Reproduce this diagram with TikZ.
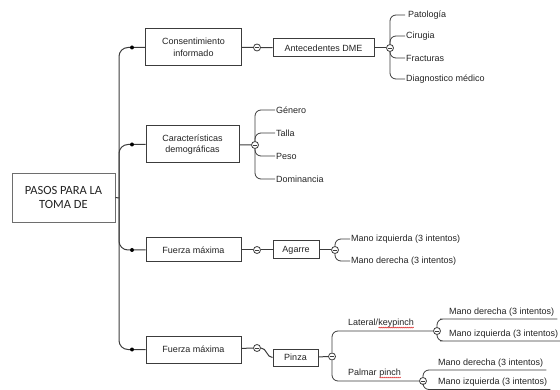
\documentclass[tikz,border=0pt]{standalone}
\usepackage{fontspec}
\setmainfont{Liberation Sans}
\newfontfamily\rootfont{Carlito}
\usetikzlibrary{positioning,calc,decorations.pathmorphing}
\definecolor{inkGray}{RGB}{35,35,35}
\definecolor{lineGray}{RGB}{60,60,60}
\definecolor{frameGray}{RGB}{110,110,110}
\definecolor{spellRed}{RGB}{220,40,40}
\tikzset{
  step box/.style={draw=lineGray,line width=1pt,fill=white,align=center,text=inkGray,font=\fontsize{9}{11.5}\selectfont,inner sep=2pt},
  root box/.style={draw=frameGray,line width=0.9pt,align=center,text=inkGray,font=\rootfont\fontsize{12.5}{14.5}\selectfont,minimum width=103pt,minimum height=49pt},
  toggle/.style={circle,draw=lineGray,fill=white,line width=0.8pt,minimum size=7pt,inner sep=0pt,
    path picture={\draw[lineGray,line width=0.7pt]([xshift=-2pt]path picture bounding box.center)--([xshift=2pt]path picture bounding box.center);}},
  knot/.style={circle,fill=black,inner sep=0pt,minimum size=4pt},
  leaf/.style={text=inkGray,font=\fontsize{9}{10}\selectfont,inner sep=1pt,anchor=west},
  uleaf/.style={text=inkGray,font=\fontsize{9}{10}\selectfont,inner xsep=3pt,inner ysep=2.5pt,anchor=south west},
  bough/.style={draw=lineGray,line width=1pt},
  branch/.style={draw=lineGray,line width=1pt,rounded corners=9pt},
  twig/.style={draw=lineGray,line width=0.8pt,rounded corners=6pt}
}
% red wavy mark under a word
\newcommand\spellmark[1]{\tikz[baseline=(sw.base)]{\node[inner sep=0pt,outer sep=0pt](sw){#1};
  \draw[spellRed,line width=0.5pt,decorate,decoration={snake,amplitude=0.5pt,segment length=2pt}]
    ([yshift=-1.6pt]sw.base west)--([yshift=-1.6pt]sw.base east);}}

\begin{document}
\begin{tikzpicture}[x=1pt,y=-1pt]
\useasboundingbox (0,0) rectangle (560,390);

\node[root box] (root) at (63.5,197.5) {PASOS PARA LA\\TOMA DE};
\coordinate (hub) at (119,198);

% main steps
\node[step box,minimum width=96pt,minimum height=37pt] (consent) at (193.5,47.5) {Consentimiento\\informado};
\node[step box,minimum width=93pt,minimum height=37pt] (demog) at (192.5,144.5) {Características\\demográficas};
\node[step box,minimum width=95pt,minimum height=24pt] (grip) at (193.5,250) {Fuerza máxima};
\node[step box,minimum width=95pt,minimum height=27pt] (pinch) at (193.5,349.5) {Fuerza máxima};

\node[knot] (k1) at (132,47.5) {};
\node[knot] (k2) at (132,144.5) {};
\node[knot] (k3) at (132,250) {};
\node[knot] (k4) at (132,349.5) {};

\draw[bough] (root.east) -- (hub);
\draw[branch] (hub) |- (k1) -- (consent);
\draw[branch] (hub) |- (k2) -- (demog);
\draw[branch] (hub) |- (k3) -- (grip);
\draw[branch] (hub) |- (k4) -- (pinch);

% antecedentes
\node[toggle] (c1) at (257,47.5) {};
\node[step box,minimum width=101pt,minimum height=18pt] (antec) at (323.5,48) {Antecedentes DME};
\draw[bough] (consent) -- (c1) -- (antec);
\node[toggle] (c1b) at (390,48) {};
\draw[bough] (antec) -- (c1b);
\node[leaf] (pat) at (407,15) {Patología};
\node[leaf] (cir) at (405,36) {Cirugia};
\node[leaf] (fra) at (405,58) {Fracturas};
\node[leaf] (dia) at (405,79) {Diagnostico médico};
\draw[twig] (c1b) |- ([xshift=-2pt]pat.west);
\foreach \n in {cir,fra,dia}
  \draw[twig] (c1b) |- (\n.west);

% datos demograficos
\node[toggle] (c2) at (255,145) {};
\draw[bough] (demog) -- (c2);
\node[leaf] (gen) at (275,110) {Género};
\node[leaf] (tal) at (275,133) {Talla};
\node[leaf] (pes) at (275,156) {Peso};
\node[leaf] (dom) at (275,179) {Dominancia};
\foreach \n in {gen,tal,pes,dom}
  \draw[twig] (c2) |- (\n.west);

% agarre
\node[toggle] (c3) at (257,250) {};
\node[step box,minimum width=46pt,minimum height=18pt] (agarre) at (296,250) {Agarre};
\draw[bough] (grip) -- (c3) -- (agarre);
\node[toggle] (c3b) at (335,250) {};
\draw[bough] (agarre) -- (c3b);
\node[leaf] (gizq) at (350,239) {Mano izquierda (3 intentos)};
\node[leaf] (gder) at (350,261) {Mano derecha (3 intentos)};
\draw[twig] (c3b) |- (gizq.west);
\draw[twig] (c3b) |- (gder.west);

% pinza
\node[toggle] (c4) at (257,348) {};
\node[step box,minimum width=45pt,minimum height=17pt] (pinza) at (295.5,357.5) {Pinza};
\draw[bough] (pinch) -- (c4);
\draw[bough] (c4) to[out=0,in=180] (pinza.west);
\node[toggle] (c4b) at (332,356.5) {};
\draw[bough] (pinza) -- (c4b);

\node[uleaf] (lat) at (345,331) {Lateral/\spellmark{keypinch}};
\node[toggle] (c5) at (437,331) {};
\draw[twig] (c4b) |- (lat.south west) -- (c5);
\node[uleaf] (palm) at (345,381) {Palmar \spellmark{pinch}};
\node[toggle] (c6) at (423,381) {};
\draw[twig] (c4b) |- (palm.south west) -- (c6);

\node[uleaf] (lder) at (446,319) {Mano derecha (3 intentos)};
\node[uleaf] (lizq) at (446,341) {Mano izquierda (3 intentos)};
\draw[twig] (c5) |- (lder.south west) -- (lder.south east);
\draw[twig] (c5) |- (lizq.south west) -- (lizq.south east);

\node[uleaf] (pder) at (435,370) {Mano derecha (3 intentos)};
\node[uleaf] (pizq) at (435,389.5) {Mano izquierda (3 intentos)};
\draw[twig] (c6) |- (pder.south west) -- (pder.south east);
\draw[twig] (c6) |- (pizq.south west) -- (pizq.south east);
\end{tikzpicture}
\end{document}
